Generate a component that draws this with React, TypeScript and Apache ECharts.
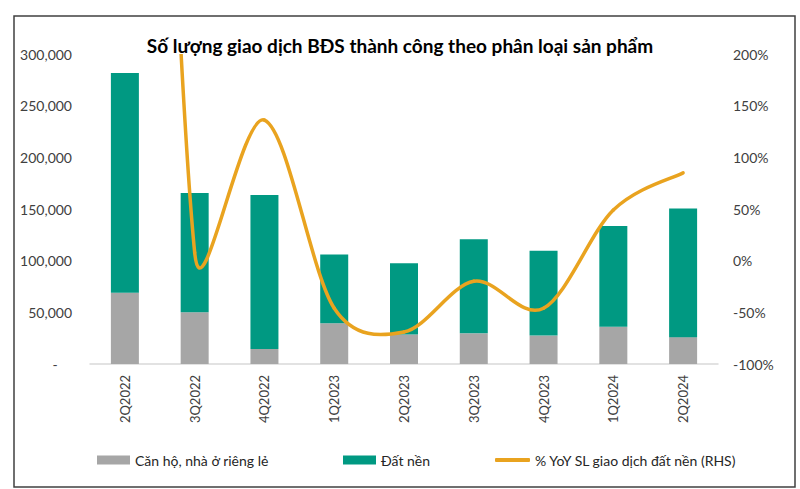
import React, { useEffect, useRef } from "react";
import * as echarts from "echarts";

const categories = ["2Q2022", "3Q2022", "4Q2022", "1Q2023", "2Q2023", "3Q2023", "4Q2023", "1Q2024", "2Q2024"];
const canHo = [69000, 50000, 14500, 39500, 28500, 29700, 27500, 36000, 26000];
const datNen = [212500, 115500, 149000, 66500, 69000, 91000, 82000, 97500, 124500];
const yoyDatNen = [1500, 8, 136, -46, -69, -20, -46, 49, 85];

const leftTicks = { min: 0, max: 300000, interval: 50000 };
const rightTicks = { min: -100, max: 200, interval: 50 };

const FONT = "Lato, 'Open Sans', sans-serif";
const LINE_COLOR = "#e9a31f";
const LINE_NAME = "% YoY SL giao dịch đất nền (RHS)";

// Excel-like smoothed curve (Catmull-Rom Bezier, tension 1/6, capped control arms)
function smoothSegments(pts: number[][]) {
  const n = pts.length;
  const segs: any[] = [];
  const dist = (a: number[], b: number[]) => Math.hypot(b[0] - a[0], b[1] - a[1]);
  const arm = (i: number, dirOut: boolean) => {
    const prev = pts[Math.max(0, i - 1)];
    const next = pts[Math.min(n - 1, i + 1)];
    let tx = (next[0] - prev[0]) / 6;
    let ty = (next[1] - prev[1]) / 6;
    const seg = dirOut ? dist(pts[i], pts[Math.min(n - 1, i + 1)]) : dist(pts[Math.max(0, i - 1)], pts[i]);
    const len = Math.hypot(tx, ty);
    const cap = seg / 2;
    if (len > cap && len > 0) {
      tx *= cap / len;
      ty *= cap / len;
    }
    return [tx, ty];
  };
  for (let i = 0; i < n - 1; i++) {
    const a = pts[i];
    const b = pts[i + 1];
    const ta = arm(i, true);
    const tb = arm(i + 1, false);
    segs.push({
      x1: a[0], y1: a[1],
      cpx1: a[0] + ta[0], cpy1: a[1] + ta[1],
      cpx2: b[0] - tb[0], cpy2: b[1] - tb[1],
      x2: b[0], y2: b[1],
    });
  }
  return segs;
}

export default function App() {
  const ref = useRef<HTMLDivElement>(null);
  useEffect(() => {
    if (!ref.current) return;
    const chart = echarts.init(ref.current, null, { renderer: "svg" });
    const legendText = { fontFamily: FONT, fontSize: 14, color: "#262626" };
    chart.setOption({
      animation: false,
      backgroundColor: "#ffffff",
      title: {
        text: "Số lượng giao dịch BĐS thành công theo phân loại sản phẩm",
        left: "center",
        top: 31,
        textStyle: { fontFamily: FONT, fontSize: 19, fontWeight: "bold", color: "#000" },
      },
      graphic: [
        {
          type: "rect",
          shape: { x: 14, y: 16, width: 781, height: 471 },
          style: { fill: "none", stroke: "#404040", lineWidth: 1.5 },
          silent: true,
        },
      ],
      legend: [
        {
          left: 92, top: 448, itemWidth: 33, itemHeight: 9, icon: "rect",
          data: ["Căn hộ, nhà ở riêng lẻ"], textStyle: legendText,
        },
        {
          left: 338, top: 448, itemWidth: 33, itemHeight: 9, icon: "rect",
          data: ["Đất nền"], textStyle: legendText,
        },
        {
          left: 490, top: 448, itemWidth: 35, itemHeight: 4, icon: "roundRect",
          data: [{ name: LINE_NAME, itemStyle: { color: LINE_COLOR } }], textStyle: legendText,
        },
      ],
      grid: { left: 90, right: 82, top: 54, bottom: 125, containLabel: false },
      xAxis: {
        type: "category",
        data: categories,
        axisLine: { lineStyle: { color: "#d9d9d9", width: 1.5 } },
        axisTick: { show: false },
        axisLabel: { rotate: 90, fontFamily: FONT, fontSize: 13, color: "#404040", margin: 11 },
      },
      yAxis: [
        {
          type: "value",
          ...leftTicks,
          splitLine: { show: false },
          axisLine: { show: false },
          axisTick: { show: false },
          axisLabel: {
            fontFamily: FONT, fontSize: 14, color: "#404040", margin: 18,
            formatter: (v: number) => (v === 0 ? "-    " : v.toLocaleString("en-US")),
          },
        },
        {
          type: "value",
          ...rightTicks,
          splitLine: { show: false },
          axisLine: { show: false },
          axisTick: { show: false },
          axisLabel: {
            fontFamily: FONT, fontSize: 14, color: "#404040", margin: 15,
            formatter: (v: number) => `${v}%`,
          },
        },
      ],
      series: [
        {
          name: "Căn hộ, nhà ở riêng lẻ",
          type: "bar",
          stack: "total",
          data: canHo,
          barWidth: 28,
          z: 2,
          itemStyle: { color: "#a6a6a6" },
        },
        {
          name: "Đất nền",
          type: "bar",
          stack: "total",
          data: datNen,
          barWidth: 28,
          z: 2,
          itemStyle: { color: "#009982" },
        },
        {
          name: LINE_NAME,
          type: "custom",
          yAxisIndex: 1,
          data: yoyDatNen,
          z: 10,
          itemStyle: { color: LINE_COLOR },
          renderItem: (params: any, api: any) => {
            if (params.dataIndex !== 0) return null;
            const pts = yoyDatNen.map((v, i) => api.coord([i, v]));
            const segs = smoothSegments(pts);
            const cs = params.coordSys;
            return {
              type: "group",
              z2: 100,
              clipPath: { type: "rect", shape: { x: cs.x, y: cs.y, width: cs.width, height: cs.height } },
              children: segs.map((s) => ({
                type: "bezierCurve",
                z2: 100,
                shape: s,
                style: { fill: "none", stroke: LINE_COLOR, lineWidth: 3.5, lineCap: "round" },
              })),
            };
          },
        },
      ],
    });
    return () => chart.dispose();
  }, []);
  return (
    <div
      ref={ref}
      style={{ position: "fixed", left: 0, top: 0, width: 800, height: 489 }}
    />
  );
}
